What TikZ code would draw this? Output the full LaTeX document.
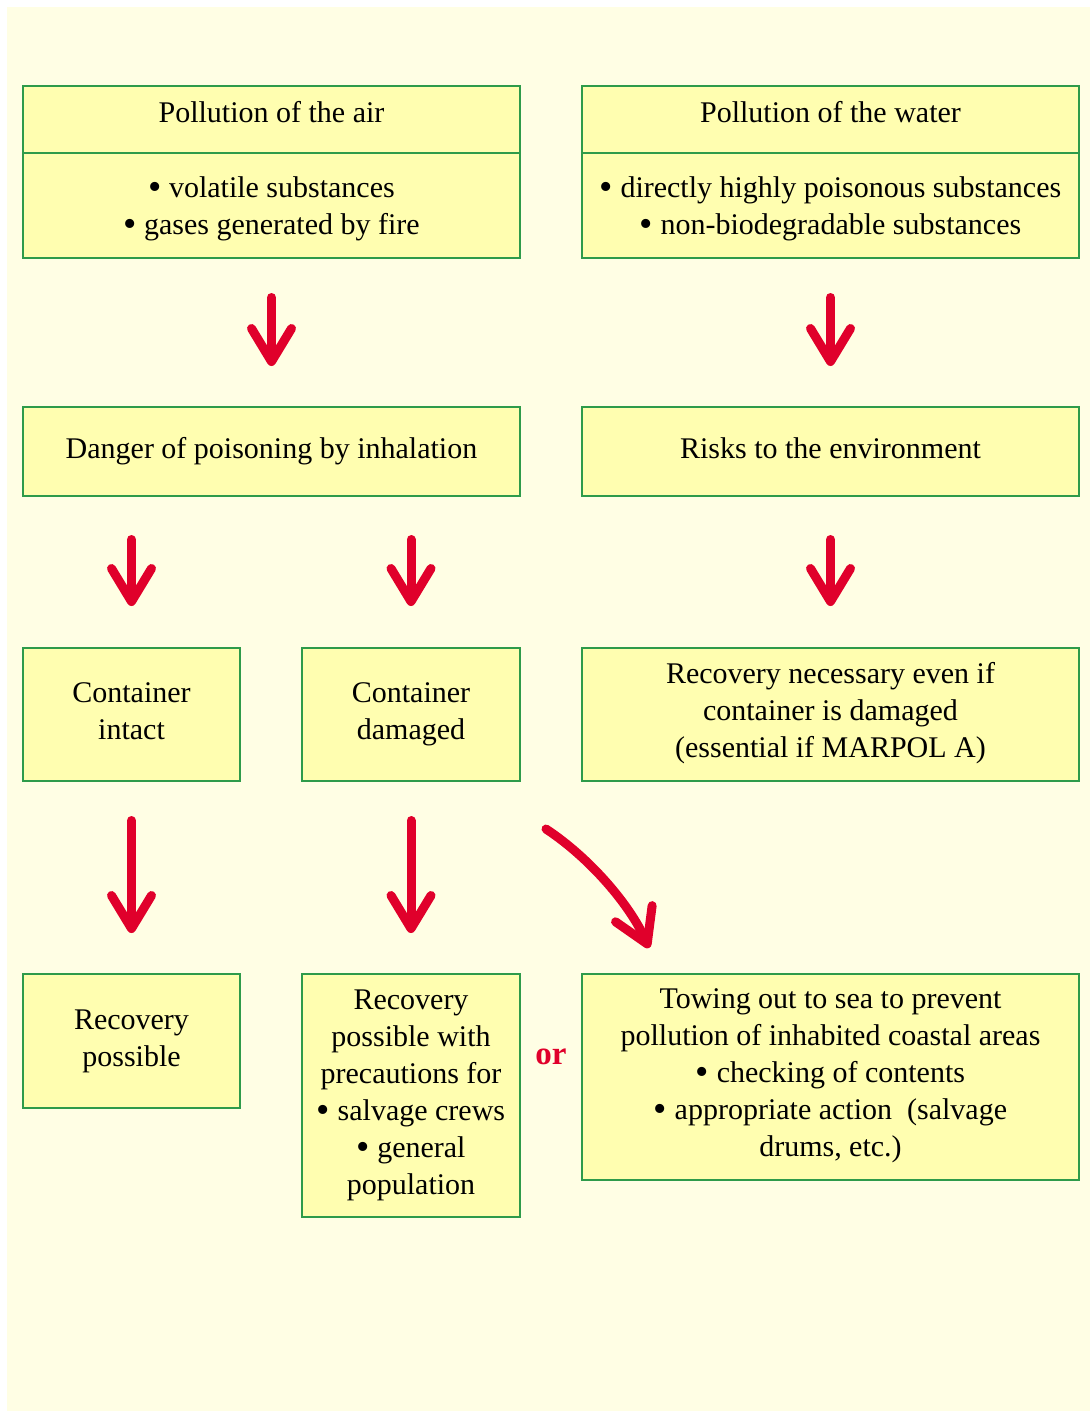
\documentclass[tikz,border=0pt]{standalone}
\usepackage{fontspec}
\setmainfont{Liberation Serif}
\usetikzlibrary{arrows.meta}
\definecolor{bgcream}{HTML}{FFFEE4}
\definecolor{boxfill}{HTML}{FFFEB0}
\definecolor{boxline}{HTML}{2E9B4A}
\definecolor{arrred}{HTML}{E0002B}
\newcommand\mybul{{\fontsize{38}{37}\selectfont\raisebox{-2.5pt}{•}}}
\tikzset{
  box/.style={draw=boxline, fill=boxfill, line width=1.6pt, inner sep=0pt, outer sep=0pt},
  txt/.style={align=center, inner sep=0pt, font=\fontsize{30}{37}\selectfont, anchor=base},
  arr/.style={draw=arrred, line width=9pt, line cap=round,
    -{Straight Barb[length=33pt, width=40pt, round]}},
  ortxt/.style={inner sep=0pt, anchor=base, text=arrred, font=\fontsize{33}{36}\selectfont\bfseries}
}
\begin{document}
\begin{tikzpicture}[x=1pt,y=-1pt]
\useasboundingbox (0,0) rectangle (1090,1411);
\fill[bgcream] (7,7) rectangle (1090,1411);
% boxes
\node[box, minimum width=497pt, minimum height=67pt] (airT) at (271.5,119.5) {};
\node[box, minimum width=497pt, minimum height=105pt] (airB) at (271.5,205.5) {};
\node[box, minimum width=497pt, minimum height=67pt] (watT) at (830.5,119.5) {};
\node[box, minimum width=497pt, minimum height=105pt] (watB) at (830.5,205.5) {};
\node[box, minimum width=497pt, minimum height=89pt] (danger) at (271.5,451.5) {};
\node[box, minimum width=497pt, minimum height=89pt] (risks) at (830.5,451.5) {};
\node[box, minimum width=217pt, minimum height=133pt] (intact) at (131.5,714.5) {};
\node[box, minimum width=218pt, minimum height=133pt] (damaged) at (411,714.5) {};
\node[box, minimum width=497pt, minimum height=133pt] (recnec) at (830.5,714.5) {};
\node[box, minimum width=217pt, minimum height=134pt] (recpos) at (131.5,1041) {};
\node[box, minimum width=218pt, minimum height=243pt] (recwith) at (411,1095.5) {};
\node[box, minimum width=497pt, minimum height=206pt] (towing) at (830.5,1077) {};
% texts (base = baseline of the last line)
\node[txt] (tairT) at (271.5,122) {Pollution of the air};
\node[txt] (tairB) at (271.5,234) {\mybul{} volatile substances\\\mybul{} gases generated by fire};
\node[txt] (twatT) at (830.5,122) {Pollution of the water};
\node[txt] (twatB) at (830.5,234) {\mybul{} directly highly poisonous substances\\\mybul{} non-biodegradable substances};
\node[txt] (tdanger) at (271.5,458) {Danger of poisoning by inhalation};
\node[txt] (trisks) at (830.5,458) {Risks to the environment};
\node[txt] (tintact) at (131.5,739) {Container\\intact};
\node[txt] (tdamaged) at (411,739) {Container\\damaged};
\node[txt] (trecnec) at (830.5,757) {Recovery necessary even if\\container is damaged\\(essential if MARPOL A)};
\node[txt] (trecpos) at (131.5,1066) {Recovery\\possible};
\node[txt] (trecwith) at (411,1194) {Recovery\\possible with\\precautions for\\\mybul{} salvage crews\\\mybul{} general\\population};
\node[txt] (ttowing) at (830.5,1156) {Towing out to sea to prevent\\pollution of inhabited coastal areas\\\mybul{} checking of contents\\\mybul{} appropriate action\ \ (salvage\\drums, etc.)};
\node[ortxt] (or) at (551,1064) {or};
% arrows
\draw[arr, shorten <=39.5pt, shorten >=41pt] (airB.south) -- (danger.north);
\draw[arr, shorten <=39.5pt, shorten >=41pt] (watB.south) -- (risks.north);
\draw[arr, shorten <=43.5pt, shorten >=42pt] (danger.south -| intact.north) -- (intact.north);
\draw[arr, shorten <=43.5pt, shorten >=42pt] (danger.south -| damaged.north) -- (damaged.north);
\draw[arr, shorten <=43.5pt, shorten >=42pt] (risks.south) -- (recnec.north);
\draw[arr, shorten <=39.5pt, shorten >=41pt] (intact.south) -- (recpos.north);
\draw[arr, shorten <=39.5pt, shorten >=41pt] (damaged.south) -- (recwith.north);
\coordinate (cs) at (546,829);
\coordinate (ce) at (649,948);
\draw[arr] (cs) .. controls (590,858) and (630,905) .. (ce);
\end{tikzpicture}
\end{document}
